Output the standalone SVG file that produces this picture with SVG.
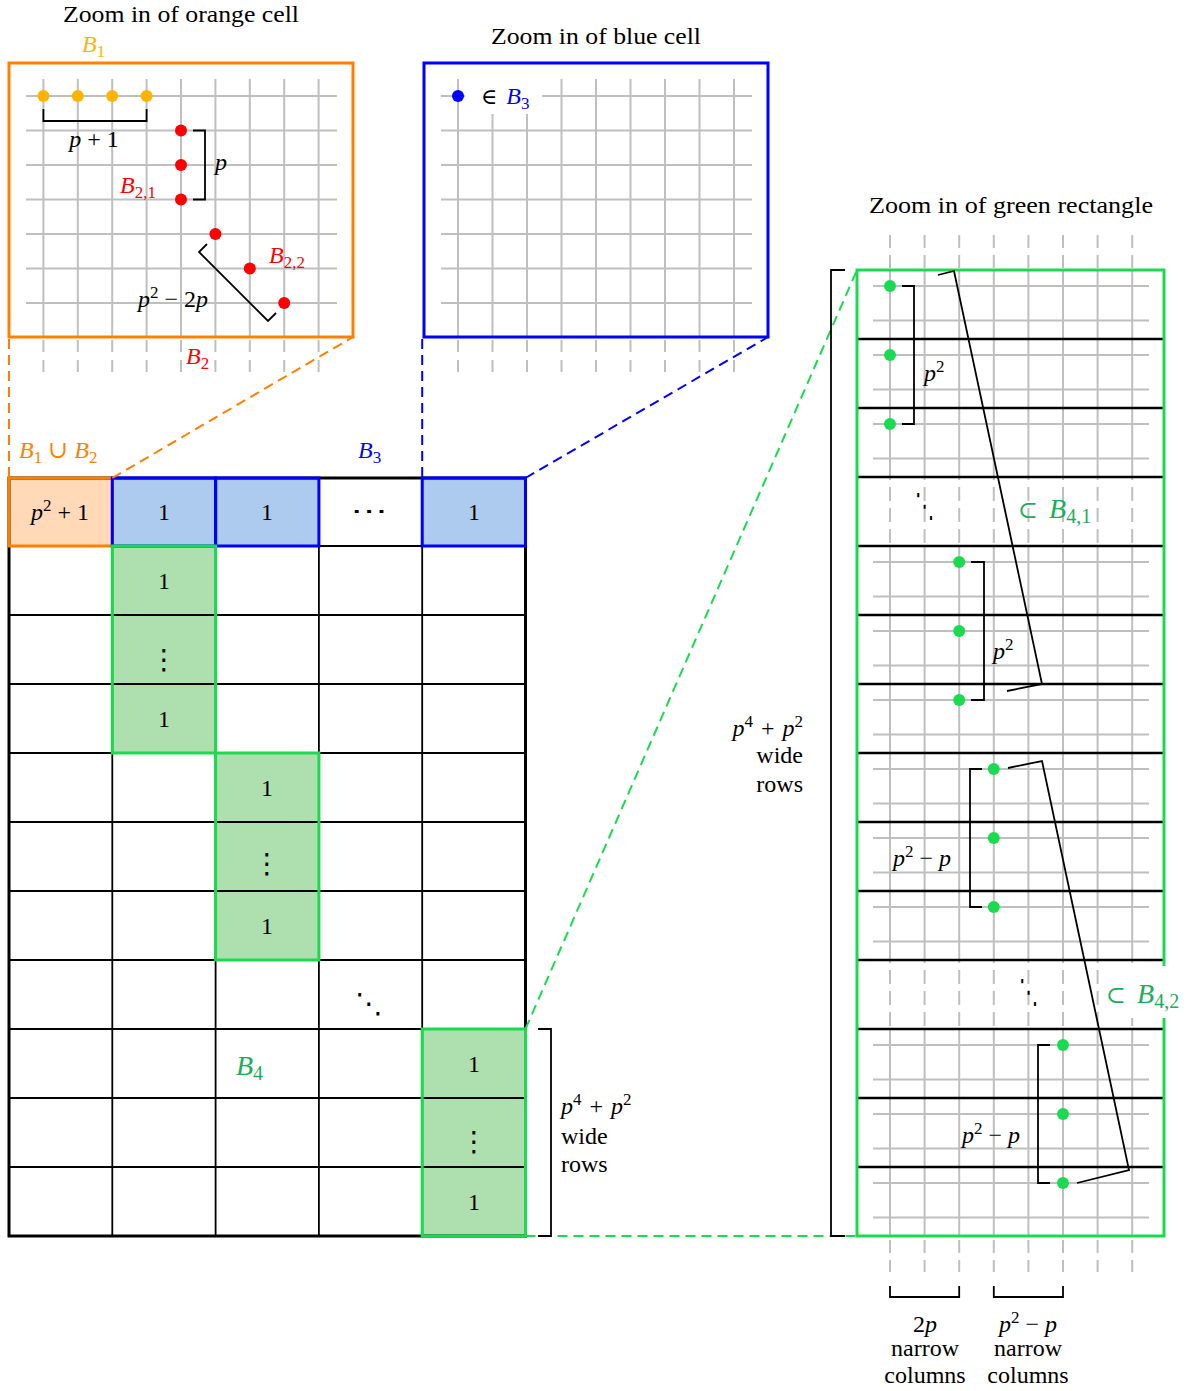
<svg xmlns="http://www.w3.org/2000/svg" width="1193" height="1391" viewBox="0 0 1193 1391">
<style>
.t{font-family:"Liberation Serif","DejaVu Serif",serif;font-size:24px;fill:#000}
.m{font-style:italic}
.s{font-size:17px}
.sym{font-family:"DejaVu Serif","DejaVu Sans",serif}
.big{font-size:28px}
.bs{font-size:20px}
.grid{stroke:#bfbfbf;stroke-width:2;fill:none}
.gd{stroke:#bfbfbf;stroke-width:2;fill:none;stroke-dasharray:12 8}
.blk{stroke:#000;stroke-width:1.8;fill:none}
.thick{stroke:#000;stroke-width:2.6;fill:none}
.or{fill:#ff8000}
.am{fill:#ffb400}
.rd{fill:#ff0000}
.bl{fill:#0000ff}
.gr{fill:#1adb4f}
.gt{fill:#1cad58}
</style>

<!-- ============ Orange zoom ============ -->
<g id="orange-zoom">
  <text class="t" x="181" y="22" text-anchor="middle" textLength="236" lengthAdjust="spacingAndGlyphs">Zoom in of orange cell</text>
  <path class="grid" d="M43.4 79V337M77.8 79V337M112.2 79V337M146.6 79V337M181 79V337M215.4 79V337M249.8 79V337M284.2 79V337M318.6 79V337"/>
  <path class="gd" d="M43.4 340V372M77.8 340V372M112.2 340V372M146.6 340V372M181 340V372M215.4 340V372M249.8 340V372M284.2 340V372M318.6 340V372"/>
  <path class="grid" d="M26 96H337M26 130.5H337M26 165H337M26 199.5H337M26 234H337M26 268.5H337M26 303H337"/>
  <rect x="9" y="63" width="344" height="274" fill="none" stroke="#ff8000" stroke-width="3"/>
  <g class="am">
    <circle cx="43.4" cy="96" r="6"/><circle cx="77.8" cy="96" r="6"/><circle cx="112.2" cy="96" r="6"/><circle cx="146.6" cy="96" r="6"/>
  </g>
  <g class="rd">
    <circle cx="181" cy="130.5" r="6"/><circle cx="181" cy="165" r="6"/><circle cx="181" cy="199.5" r="6"/>
    <circle cx="215.4" cy="234" r="6"/><circle cx="249.8" cy="268.5" r="6"/><circle cx="284.2" cy="303" r="6"/>
  </g>
  <path class="blk" d="M43.4 109V121H146.6V109"/>
  <path class="blk" d="M193 130.5H205V199.5H193"/>
  <path class="blk" d="M207 244L199 252L268 321L276 313"/>
  <text class="t am" x="82" y="52"><tspan class="m">B</tspan><tspan class="s" dy="5">1</tspan></text>
  <text class="t" x="94" y="147" text-anchor="middle"><tspan class="m">p</tspan> + 1</text>
  <text class="t m" x="215" y="170">p</text>
  <text class="t rd" x="120" y="193"><tspan class="m">B</tspan><tspan class="s" dy="5">2,1</tspan></text>
  <text class="t rd" x="269" y="263"><tspan class="m">B</tspan><tspan class="s" dy="5">2,2</tspan></text>
  <text class="t" x="138" y="307"><tspan class="m">p</tspan><tspan class="s" dy="-9">2</tspan><tspan dy="9"> − 2</tspan><tspan class="m">p</tspan></text>
  <text class="t rd" x="186" y="364"><tspan class="m">B</tspan><tspan class="s" dy="5">2</tspan></text>
</g>

<!-- ============ Blue zoom ============ -->
<g id="blue-zoom">
  <text class="t" x="596" y="44" text-anchor="middle" textLength="210" lengthAdjust="spacingAndGlyphs">Zoom in of blue cell</text>
  <path class="grid" d="M458 79V337M492.5 79V337M527 79V337M561.5 79V337M596 79V337M630.5 79V337M665 79V337M699.5 79V337M734 79V337"/>
  <path class="gd" d="M458 340V372M492.5 340V372M527 340V372M561.5 340V372M596 340V372M630.5 340V372M665 340V372M699.5 340V372M734 340V372"/>
  <path class="grid" d="M441 96H752M441 130.5H752M441 165H752M441 199.5H752M441 234H752M441 268.5H752M441 303H752"/>
  <rect x="465" y="78" width="77" height="36" fill="#fff"/>
  <rect x="424" y="63" width="344" height="274" fill="none" stroke="#0000ff" stroke-width="3"/>
  <circle class="bl" cx="458" cy="96" r="6"/>
  <text class="t" x="481" y="104"><tspan class="sym" style="font-size:22px">∈</tspan><tspan class="bl m" dx="9">B</tspan><tspan class="bl s" dy="5">3</tspan></text>
</g>

<!-- ============ Main matrix ============ -->
<g id="matrix">
  <rect x="9" y="478" width="516.5" height="758" fill="#fff"/>
  <rect x="9" y="478" width="103.3" height="68" fill="#ffd9b8"/>
  <rect x="112.3" y="478" width="103.3" height="68" fill="#accbef"/>
  <rect x="215.6" y="478" width="103.3" height="68" fill="#accbef"/>
  <rect x="422.2" y="478" width="103.3" height="68" fill="#accbef"/>
  <rect x="112.3" y="546" width="103.3" height="207" fill="#aedfae"/>
  <rect x="215.6" y="753" width="103.3" height="207" fill="#aedfae"/>
  <rect x="422.2" y="1029" width="103.3" height="207" fill="#aedfae"/>
  <path class="blk" d="M112.3 478V1236M215.6 478V1236M318.9 478V1236M422.2 478V1236M9 546H525.5M9 615H525.5M9 684H525.5M9 753H525.5M9 822H525.5M9 891H525.5M9 960H525.5M9 1029H525.5M9 1098H525.5M9 1167H525.5"/>
  <rect x="9" y="478" width="516.5" height="758" fill="none" stroke="#000" stroke-width="3"/>
  <rect x="9" y="478" width="103.3" height="68" fill="none" stroke="#ff8000" stroke-width="3"/>
  <g fill="none" stroke="#0000ff" stroke-width="3">
    <rect x="112.3" y="478" width="103.3" height="68"/>
    <rect x="215.6" y="478" width="103.3" height="68"/>
    <rect x="422.2" y="478" width="103.3" height="68"/>
  </g>
  <g fill="none" stroke="#1adb4f" stroke-width="3">
    <rect x="112.3" y="546" width="103.3" height="207"/>
    <rect x="215.6" y="753" width="103.3" height="207"/>
    <rect x="422.2" y="1029" width="103.3" height="207"/>
  </g>
  <text class="t" x="60" y="520" text-anchor="middle"><tspan class="m">p</tspan><tspan class="s" dy="-9">2</tspan><tspan dy="9"> + 1</tspan></text>
  <g class="t" text-anchor="middle">
    <text x="164" y="520">1</text>
    <text x="267" y="520">1</text>
    <text x="474" y="520">1</text>
    <text class="sym" x="0" y="0" style="font-size:24px" transform="translate(369 519) scale(1.55 1)">⋯</text>
    <text x="164" y="589">1</text>
    <text class="sym" x="164" y="669" style="font-size:28px">⋮</text>
    <text x="164" y="727">1</text>
    <text x="267" y="796">1</text>
    <text class="sym" x="267" y="873" style="font-size:28px">⋮</text>
    <text x="267" y="934">1</text>
    <text class="sym" x="369" y="1013" style="font-size:28px">⋱</text>
    <text x="474" y="1072">1</text>
    <text class="sym" x="474" y="1151" style="font-size:28px">⋮</text>
    <text x="474" y="1210">1</text>
  </g>
  <text class="t gt big" x="236" y="1075"><tspan class="m">B</tspan><tspan class="bs" dy="5">4</tspan></text>
  <text class="t or" x="19" y="458"><tspan class="m">B</tspan><tspan class="s" dy="5">1</tspan><tspan dy="-5"> ∪ </tspan><tspan class="m">B</tspan><tspan class="s" dy="5">2</tspan></text>
  <text class="t bl" x="358" y="458"><tspan class="m">B</tspan><tspan class="s" dy="5">3</tspan></text>
  <text class="t" x="561" y="1114"><tspan class="m">p</tspan><tspan class="s" dy="-9">4</tspan><tspan dy="9" dx="2"> + </tspan><tspan class="m" dx="2">p</tspan><tspan class="s" dy="-9">2</tspan></text>
  <text class="t" x="561" y="1144">wide</text>
  <text class="t" x="561" y="1172">rows</text>
</g>

<!-- ============ Green zoom ============ -->
<g id="green-zoom">
  <text class="t" x="1011" y="213" text-anchor="middle" textLength="284" lengthAdjust="spacingAndGlyphs">Zoom in of green rectangle</text>
  <path class="grid" d="M890 270V477M924.6 270V477M959.2 270V477M993.8 270V477M1028.4 270V477M1063 270V477M1097.6 270V477M1132.2 270V477
  M890 546V960M924.6 546V960M959.2 546V960M993.8 546V960M1028.4 546V960M1063 546V960M1097.6 546V960M1132.2 546V960
  M890 1029V1236M924.6 1029V1236M959.2 1029V1236M993.8 1029V1236M1028.4 1029V1236M1063 1029V1236M1097.6 1029V1236M1132.2 1029V1236"/>
  <path class="gd" style="stroke-dasharray:13 7" d="M890 235V270M924.6 235V270M959.2 235V270M993.8 235V270M1028.4 235V270M1063 235V270M1097.6 235V270M1132.2 235V270
  M890 1240V1272M924.6 1240V1272M959.2 1240V1272M993.8 1240V1272M1028.4 1240V1272M1063 1240V1272M1097.6 1240V1272M1132.2 1240V1272"/>
  <path class="gd" style="stroke-dasharray:14 7;stroke-dashoffset:-10" d="M890 477V546M924.6 477V546M959.2 477V546M993.8 477V546M1028.4 477V546M1063 477V546M1097.6 477V546M1132.2 477V546
  M890 960V1029M924.6 960V1029M959.2 960V1029M993.8 960V1029M1028.4 960V1029M1063 960V1029M1097.6 960V1029M1132.2 960V1029"/>
  <path class="grid" d="M873 286H1149M873 320.5H1149M873 355H1149M873 389.5H1149M873 424H1149M873 458.5H1149
  M873 562H1149M873 596.5H1149M873 631H1149M873 665.5H1149M873 700H1149M873 734.5H1149M873 769H1149M873 803.5H1149M873 838H1149M873 872.5H1149M873 907H1149M873 941.5H1149
  M873 1045H1149M873 1079.5H1149M873 1114H1149M873 1148.5H1149M873 1183H1149M873 1217.5H1149"/>
  <path class="thick" d="M857 339H1164M857 408H1164M857 477H1164M857 546H1164M857 615H1164M857 684H1164M857 753H1164M857 822H1164M857 891H1164M857 960H1164M857 1029H1164M857 1098H1164M857 1167H1164"/>
  <rect x="857" y="270" width="307" height="966" fill="none" stroke="#1adb4f" stroke-width="3"/>
  <rect x="1100" y="966" width="93" height="52" fill="#fff"/>
  <g class="gr">
    <circle cx="890" cy="286" r="6"/><circle cx="890" cy="355" r="6"/><circle cx="890" cy="424" r="6"/>
    <circle cx="959.2" cy="562" r="6"/><circle cx="959.2" cy="631" r="6"/><circle cx="959.2" cy="700" r="6"/>
    <circle cx="993.8" cy="769" r="6"/><circle cx="993.8" cy="838" r="6"/><circle cx="993.8" cy="907" r="6"/>
    <circle cx="1063" cy="1045" r="6"/><circle cx="1063" cy="1114" r="6"/><circle cx="1063" cy="1183" r="6"/>
  </g>
  <path class="blk" d="M902 286H914V424H902"/>
  <path class="blk" d="M971 562H984V700H971"/>
  <path class="blk" d="M982 769H970V907H982"/>
  <path class="blk" d="M1050 1045H1038V1183H1050"/>
  <path class="blk" d="M938 275L954 271L1042 684L1007 691"/>
  <path class="blk" d="M1008 768L1042 761L1129 1170L1077 1183"/>
  <text class="t" x="924" y="381"><tspan class="m">p</tspan><tspan class="s" dy="-9">2</tspan></text>
  <text class="t" x="993" y="659"><tspan class="m">p</tspan><tspan class="s" dy="-9">2</tspan></text>
  <text class="t" x="893" y="866"><tspan class="m">p</tspan><tspan class="s" dy="-9">2</tspan><tspan dy="9"> − </tspan><tspan class="m">p</tspan></text>
  <text class="t" x="962" y="1143"><tspan class="m">p</tspan><tspan class="s" dy="-9">2</tspan><tspan dy="9"> − </tspan><tspan class="m">p</tspan></text>
  <text class="t sym" x="0" y="0" text-anchor="middle" transform="translate(924.5 517) scale(0.8 1.4)">⋱</text>
  <text class="t sym" x="0" y="0" text-anchor="middle" transform="translate(1028.5 1003) scale(0.8 1.4)">⋱</text>
  <text class="t gt big" x="1018" y="518"><tspan class="sym" style="font-size:24px">⊂</tspan><tspan class="m" dx="11">B</tspan><tspan class="bs" dy="5">4,1</tspan></text>
  <text class="t gt big" x="1106" y="1003"><tspan class="sym" style="font-size:24px">⊂</tspan><tspan class="m" dx="11">B</tspan><tspan class="bs" dy="5">4,2</tspan></text>
  <text class="t" x="803" y="736" text-anchor="end"><tspan class="m">p</tspan><tspan class="s" dy="-9">4</tspan><tspan dy="9" dx="2"> + </tspan><tspan class="m" dx="2">p</tspan><tspan class="s" dy="-9">2</tspan></text>
  <text class="t" x="803" y="763" text-anchor="end">wide</text>
  <text class="t" x="803" y="792" text-anchor="end">rows</text>
  <g class="t" text-anchor="middle">
    <text x="925" y="1332"><tspan>2</tspan><tspan class="m">p</tspan></text>
    <text x="925" y="1356">narrow</text>
    <text x="925" y="1383">columns</text>
    <text x="1028" y="1332"><tspan class="m">p</tspan><tspan class="s" dy="-9">2</tspan><tspan dy="9"> − </tspan><tspan class="m">p</tspan></text>
    <text x="1028" y="1356">narrow</text>
    <text x="1028" y="1383">columns</text>
  </g>
</g>

<!-- ============ Connectors ============ -->
<g id="connectors" fill="none">
  <path d="M9 339V478M112.3 478L353 337" stroke="#ff8000" stroke-width="2" stroke-dasharray="10 6"/>
  <path d="M422.2 339V478M525.5 478L768 337" stroke="#0000ff" stroke-width="2" stroke-dasharray="10 6"/>
  <path d="M525.5 1029L857 270M525.5 1236H857" stroke="#1adb4f" stroke-width="2" stroke-dasharray="10 6"/>
  <path class="blk" d="M538 1029H551V1236H538"/>
  <path class="blk" d="M845 270H831V1236H845"/>
  <path class="blk" d="M890 1286V1297H959.2V1286M993.8 1286V1297H1063V1286"/>
</g>
</svg>
